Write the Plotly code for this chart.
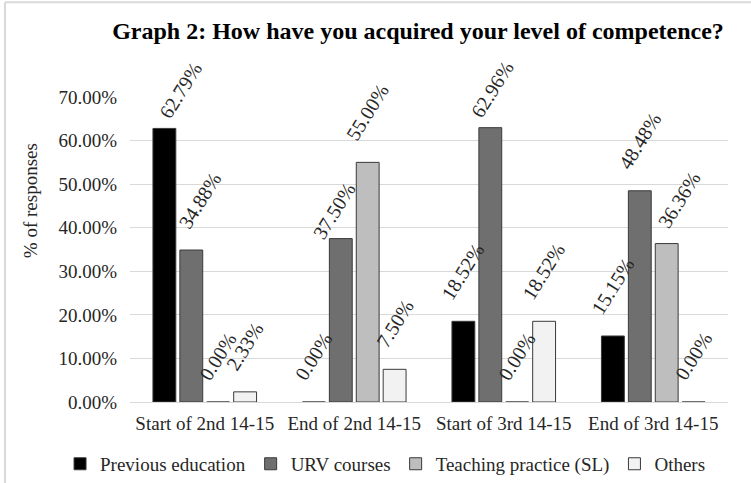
import plotly.graph_objects as go

categories = ["Start of 2nd 14-15", "End of 2nd 14-15", "Start of 3rd 14-15", "End of 3rd 14-15"]
series_names = ["Previous education", "URV courses", "Teaching practice (SL)", "Others"]
previous_education = [0.6279, 0.0, 0.1852, 0.1515]
urv_courses = [0.3488, 0.3750, 0.6296, 0.4848]
teaching_practice = [0.0, 0.5500, 0.0, 0.3636]
others = [0.0233, 0.0750, 0.1852, 0.0]
colors = ["#000000", "#6f6f6f", "#bebebe", "#f2f2f2"]

series = [previous_education, urv_courses, teaching_practice, others]
FONT = "Liberation Serif"

W, H = 751, 483
ML, MR, MT, MB = 130, 23, 97, 81
BARGAP, GROUPGAP = 0.28, 0.15
cat_px = (W - ML - MR) / len(categories)
slot_px = cat_px * (1 - BARGAP) / len(series)

# small manual nudges of individual data labels (series index, category index) -> (dx, dy) px
label_nudges = {(0, 0): (16, -11), (1, 2): (2, -11), (1, 0): (9, 0),
                (1, 1): (-7, -22), (2, 3): (12, -6)}

fig = go.Figure()
annotations = []
for si, (name, vals, col) in enumerate(zip(series_names, series, colors)):
    fig.add_trace(go.Bar(
        x=categories, y=vals, name=name,
        marker=dict(color=col, line=dict(color="#3a3a3a", width=1)),
    ))
    for ci, (cat, v) in enumerate(zip(categories, vals)):
        dx, dy = label_nudges.get((si, ci), (0, 0))
        annotations.append(dict(
            x=cat, y=v, xref="x", yref="y", text=f"{v*100:.2f}%",
            textangle=-58, showarrow=False, xanchor="center", yanchor="bottom",
            xshift=(si - (len(series) - 1) / 2) * slot_px + dx, yshift=15 + dy,
            font=dict(family=FONT, size=20, color="#262626"),
        ))

annotations.append(dict(text="% of responses", textangle=-90, xref="paper", yref="paper",
                        x=-0.167, y=0.659, xanchor="center", yanchor="middle",
                        showarrow=False, font=dict(family=FONT, size=19, color="#262626")))

fig.update_layout(
    width=W, height=H,
    margin=dict(l=ML, r=MR, t=MT, b=MB, autoexpand=False),
    paper_bgcolor="white", plot_bgcolor="white",
    barmode="group", bargap=BARGAP, bargroupgap=GROUPGAP,
    font=dict(family=FONT, size=19, color="#262626"),
    title=dict(text="<b>Graph 2: How have you acquired your level of competence?</b>",
               x=0.5566, xanchor="center", y=0.936, yanchor="middle",
               font=dict(family=FONT, size=24, color="#000000")),
    yaxis=dict(range=[0, 0.70], dtick=0.10, tickformat=".2%",
               gridcolor="#d9d9d9", gridwidth=1, zeroline=False,
               showline=False, ticks="", ticklabelstandoff=12,
               automargin=False, tickfont=dict(family=FONT, size=19)),
    xaxis=dict(showline=True, linecolor="#d9d9d9", ticks="",
               automargin=False, tickfont=dict(family=FONT, size=19), ticklabelstandoff=4),
    legend=dict(orientation="h", x=-0.117, xanchor="left", y=-0.203, yanchor="middle",
                font=dict(family=FONT, size=19, color="#262626"), itemwidth=30,
                traceorder="normal"),
    showlegend=True,
    annotations=annotations,
    shapes=[dict(type="line", xref="paper", yref="paper", x0=-0.209, x1=-0.209, y0=-0.4, y1=1.311,
                 line=dict(color="#d9d9d9", width=2)),
            dict(type="line", xref="paper", yref="paper", x0=-0.209, x1=1.2, y0=1.311, y1=1.311,
                 line=dict(color="#d9d9d9", width=2))],
)

fig.write_html("out.html", config={"displayModeBar": False},
               post_script="document.body.style.margin='0';")
